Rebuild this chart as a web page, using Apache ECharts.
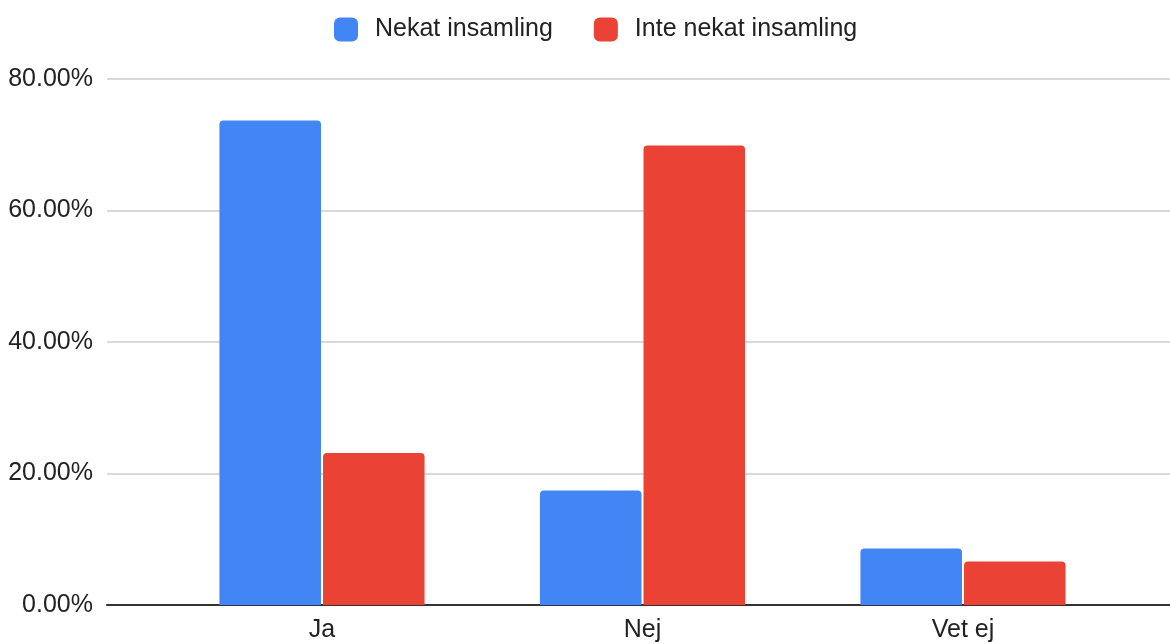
<!DOCTYPE html>
<html>
<head>
<meta charset="utf-8">
<script src="https://cdn.jsdelivr.net/npm/echarts@6/dist/echarts.min.js"></script>
<style>
  html, body { margin: 0; padding: 0; background: #fff; }
  #chart { width: 1170px; height: 644px; }
</style>
</head>
<body>
<div id="chart"></div>
<script>
// Survey answers per category, shares in percent
const categories = ['Ja', 'Nej', 'Vet ej'];
const seriesNames = ['Nekat insamling', 'Inte nekat insamling'];
const nekatValues = [73.7, 17.4, 8.6];
const inteNekatValues = [23.1, 69.9, 6.6];
const yTicks = { min: 0, max: 80, interval: 20 };

const FONT = '"Liberation Sans", Arial, Helvetica, sans-serif';
const BLUE = '#4285F4';
const RED = '#EA4335';

const chart = echarts.init(document.getElementById('chart'), null, { renderer: 'canvas' });

chart.setOption({
  backgroundColor: '#ffffff',
  animation: false,
  textStyle: { fontFamily: FONT, color: '#222' },
  legend: {
    left: 334,
    top: 17,
    padding: 0,
    itemWidth: 24,
    itemHeight: 24,
    itemGap: 41,
    icon: 'roundRect',
    textStyle: { fontFamily: FONT, fontSize: 25, color: '#222', padding: [2, 0, 0, 12] },
    data: seriesNames
  },
  grid: [
    // full-width frame: gridlines, percent labels and baseline
    { left: 107, right: 0, top: 79, bottom: 39, containLabel: false },
    // inner band where the category groups sit
    { left: 161.75, right: 46.75, top: 79, bottom: 39, containLabel: false }
  ],
  xAxis: [
    {
      gridIndex: 0, type: 'value', min: 0, max: 1,
      axisLabel: { show: false }, axisTick: { show: false }, splitLine: { show: false },
      axisLine: { show: true, onZero: false, lineStyle: { color: '#333', width: 2 } }
    },
    {
      gridIndex: 1, type: 'category', data: categories,
      axisLine: { show: false }, axisTick: { show: false },
      axisLabel: { fontFamily: FONT, fontSize: 25, color: '#222', margin: 13 }
    }
  ],
  yAxis: [
    {
      gridIndex: 0, type: 'value', min: yTicks.min, max: yTicks.max, interval: yTicks.interval,
      axisLine: { show: false }, axisTick: { show: false },
      axisLabel: {
        fontFamily: FONT, fontSize: 25, color: '#222', margin: 14,
        formatter: v => v.toFixed(2) + '%'
      },
      splitLine: { lineStyle: { color: '#cccccc', width: 1.5 } }
    },
    {
      gridIndex: 1, type: 'value', min: yTicks.min, max: yTicks.max, interval: yTicks.interval,
      show: false
    }
  ],
  series: [
    {
      name: seriesNames[0], type: 'bar', xAxisIndex: 1, yAxisIndex: 1,
      data: nekatValues, barCategoryGap: '36%', barGap: '2%',
      itemStyle: { color: BLUE, borderRadius: [4, 4, 0, 0] }
    },
    {
      name: seriesNames[1], type: 'bar', xAxisIndex: 1, yAxisIndex: 1,
      data: inteNekatValues, barCategoryGap: '36%', barGap: '2%',
      itemStyle: { color: RED, borderRadius: [4, 4, 0, 0] }
    }
  ]
});
</script>
</body>
</html>
